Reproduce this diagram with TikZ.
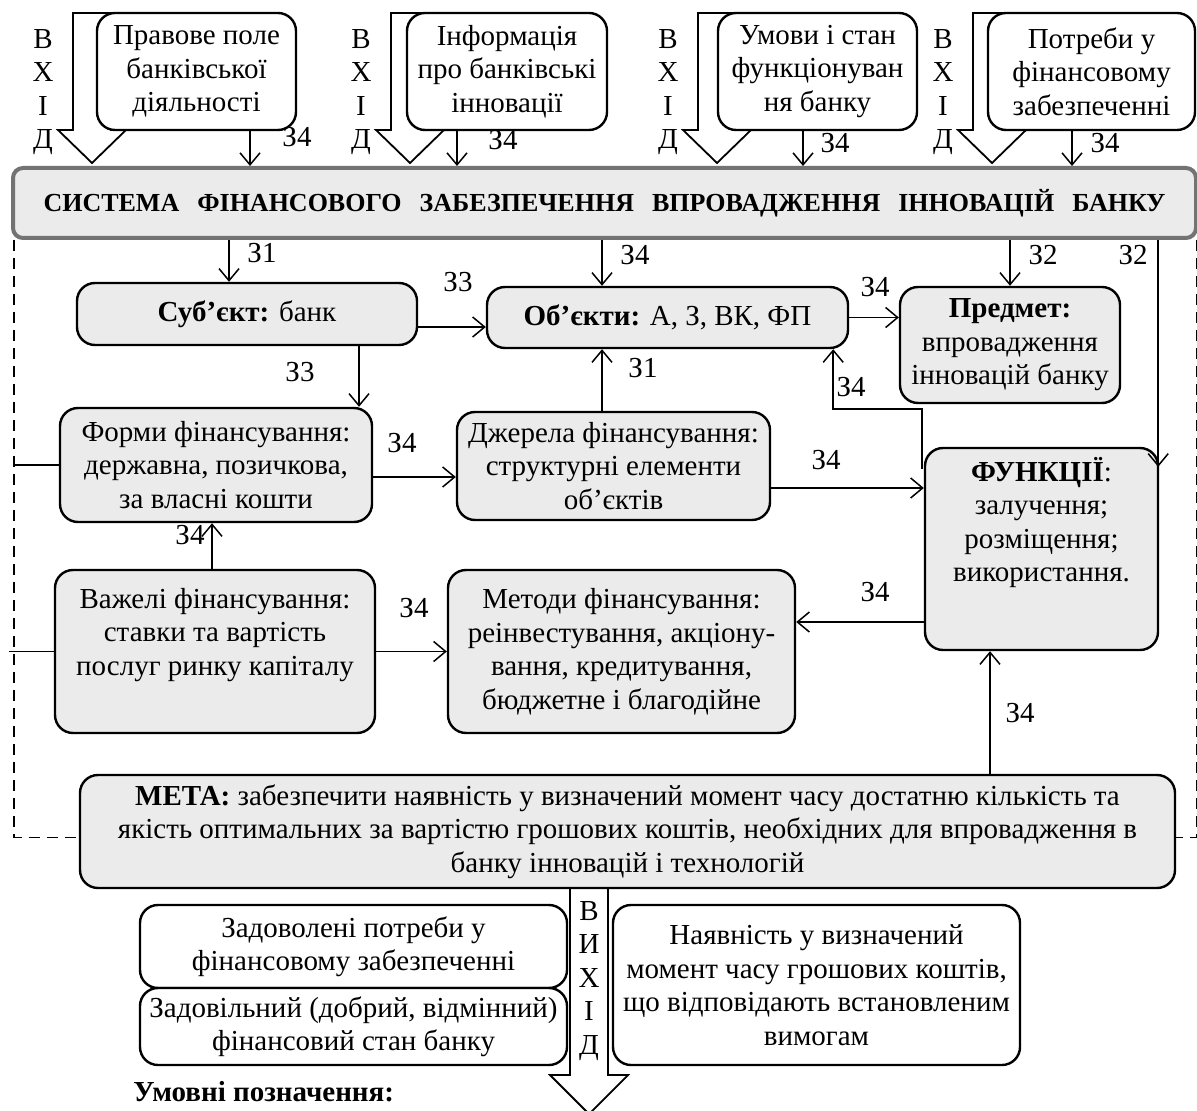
\documentclass[tikz,border=0pt]{standalone}
\usepackage{fontspec}
\setmainfont{Liberation Serif}
\usetikzlibrary{arrows.meta}
\tikzset{
    box/.style={draw, line width=1.2pt, rounded corners=9pt, align=center, inner sep=1pt},
    grbox/.style={box, fill=black!8},
    whbox/.style={box, fill=white},
    arr/.style={line width=0.75pt, -{Straight Barb[length=6pt,width=10pt]}},
    link/.style={line width=0.75pt},
    frame/.style={line width=0.6pt, dash pattern=on 5.5pt off 3.5pt},
    lab/.style={inner sep=0pt},
    vhid/.style={align=center, inner sep=0pt},
    inarrow/.pic={
        \draw[line width=0.9pt, fill=white] (-19,0) -- (-19,117) -- (-34,117) -- (0,150) -- (34,117) -- (19,117) -- (19,0) -- cycle;
        \node[vhid] (-vhid) at (-49,79) {В\\Х\\І\\Д};
    }
}

\begin{document}
\begin{tikzpicture}[x=0.5pt, y=-0.5pt, font=\fontsize{14.5}{16.75}\selectfont]
    \useasboundingbox (0,0) rectangle (1197,1111);
    %входи
    \pic (g1) at (92,13) {inarrow};
    \pic (g2) at (410,13) {inarrow};
    \pic (g3) at (717,13) {inarrow};
    \pic (g4) at (992,13) {inarrow};
    \node[whbox, minimum width=99.5pt, minimum height=58.5pt] (in1) at (196.5,71.5) {Правове поле\\банківської\\діяльності};
    \node[whbox, minimum width=100pt, minimum height=58.5pt] (in2) at (507,71.5) {Інформація\\про банківські\\інновації};
    \node[whbox, minimum width=99.5pt, minimum height=58.5pt] (in3) at (817.5,71.5) {Умови і стан\\функціонуван\\ня банку};
    \node[whbox, minimum width=103.5pt, minimum height=58.5pt] (in4) at (1091.5,71.5) {Потреби у\\фінансовому\\забезпеченні};
    %система
    \node[box, draw=black!55, line width=2pt, rounded corners=5pt, fill=black!8, minimum width=591.5pt, minimum height=35pt, font=\fontsize{13}{16}\selectfont] (sys) at (604.5,203)
        {\textbf{\makebox[561pt][s]{СИСТЕМА\hfill ФІНАНСОВОГО\hfill ЗАБЕЗПЕЧЕННЯ\hfill ВПРОВАДЖЕННЯ\hfill ІННОВАЦІЙ\hfill БАНКУ}}};
    %елементи
    \node[grbox, minimum width=170pt, minimum height=31pt] (subj) at (247,314) {\textbf{Суб’єкт:} банк};
    \node[grbox, minimum width=180.5pt, minimum height=30.5pt] (obj) at (667.5,317.5) {\textbf{Об’єкти:} А, З, ВК, ФП};
    \node[grbox, minimum width=110pt, minimum height=58pt] (pred) at (1010,345) {\textbf{Предмет:}\\впровадження\\інновацій банку};
    \node[grbox, minimum width=156pt, minimum height=57pt] (forms) at (216,465) {Форми фінансування:\\державна, позичкова,\\за власні кошти};
    \node[grbox, minimum width=156.5pt, minimum height=54pt] (src) at (613.5,466) {Джерела фінансування:\\структурні елементи\\об’єктів};
    \node[grbox, minimum width=116.5pt, minimum height=101pt] (func) at (1041.5,549) {\textbf{ФУНКЦІЇ}:\\залучення;\\розміщення;\\використання.\\[13pt]\mbox{}};
    \node[grbox, minimum width=160pt, minimum height=81.5pt] (lev) at (215,651.5) {Важелі фінансування:\\ставки та вартість\\послуг ринку капіталу\\[3pt]\mbox{}};
    \node[grbox, minimum width=173.5pt, minimum height=81.5pt] (meth) at (621.5,651.5) {Методи фінансування:\\реінвестування, акціону-\\вання, кредитування,\\бюджетне і благодійне};
    %вихід
    \draw[line width=0.9pt, fill=white] (570,888) -- (570,1075) -- (550,1075) -- (589,1114) -- (628,1075) -- (608,1075) -- (608,888);
    \node[grbox, minimum width=547.5pt, minimum height=56.5pt] (meta) at (627.5,831.5)
        {\textbf{МЕТА:} забезпечити наявність у визначений момент часу достатню кількість та\\якість оптимальних за вартістю грошових коштів, необхідних для впровадження в\\банку інновацій і технологій};
    \node[vhid] (vyhid) at (589,981) {В\\И\\Х\\І\\Д};
    \node[whbox, minimum width=213.5pt, minimum height=41.5pt] (out1) at (353.5,946.5) {Задоволені потреби у\\фінансовому забезпеченні};
    \node[whbox, minimum width=213.5pt, minimum height=38.5pt] (out2) at (353.5,1026.5) {Задовільний (добрий, відмінний)\\фінансовий стан банку};
    \node[whbox, minimum width=203.5pt, minimum height=80pt] (out3) at (816.5,985) {Наявність у визначений\\момент часу грошових коштів,\\що відповідають встановленим\\вимогам};
    \node[anchor=base west, inner sep=0pt] (legend) at (133,1101) {\textbf{Умовні позначення:}};
    %рамка
    \coordinate (fl) at ([xshift=1.5pt]sys.south west);
    \coordinate (fr) at ([xshift=-0.5pt]sys.south east);
    \draw[frame] (fl) |- ([yshift=-3pt]meta.west);
    \draw[frame] (fr) |- ([yshift=-3pt]meta.east);
    %зв'язки входів
    \coordinate (a1) at ([xshift=26.75pt]in1.south);
    \coordinate (a2) at ([xshift=-25pt]in2.south);
    \coordinate (a3) at ([xshift=-7.25pt]in3.south);
    \coordinate (a4) at ([xshift=-9.75pt]in4.south);
    \foreach \a in {a1,a2,a3,a4}
        \draw[arr] (\a) -- (\a |- sys.north);
    %зв'язки системи
    \coordinate (b1) at ([xshift=-9pt]subj.north);
    \coordinate (b2) at ([xshift=-32.75pt]obj.north);
    \coordinate (b4) at ([xshift=-0.5pt,yshift=-10pt]func.north east);
    \draw[arr] (b1 |- sys.south) -- (b1);
    \draw[arr] (b2 |- sys.south) -- (b2);
    \draw[arr] (pred.north |- sys.south) -- (pred.north);
    \draw[arr] (b4 |- sys.south) -- (b4);
    %зв'язки елементів
    \coordinate (c1) at ([xshift=56pt]subj.south);
    \coordinate (c2) at ([yshift=-6.5pt]subj.east);
    \coordinate (c3) at ([xshift=-5.75pt]src.north);
    \coordinate (c4) at ([xshift=-1pt,yshift=-11pt]func.north west);
    \coordinate (c5) at ([xshift=-8pt]obj.south east);
    \coordinate (c6) at ([yshift=-6pt]forms.east);
    \coordinate (c7) at ([yshift=-11pt]src.east);
    \coordinate (c8) at ([xshift=-1.5pt]lev.north);
    \coordinate (c9) at ([yshift=-36.5pt]func.west);
    \coordinate (c10) at ([xshift=-25.75pt]func.south);
    \draw[arr] (c1) -- (c1 |- forms.north);
    \draw[arr] (c2) -- (c2 -| obj.west);
    \draw[arr] (obj.east) -- (obj.east -| pred.west);
    \draw[arr] (c3) -- (c3 |- obj.south);
    \draw[arr] (c4) -- ++(0,-60) -| (c5);
    \draw[arr] (c6) -- (c6 -| src.west);
    \draw[arr] (c7) -- (c7 -| func.west);
    \draw[arr] (c8) -- (c8 |- forms.south);
    \draw[arr] (lev.east) -- (lev.east -| meth.west);
    \draw[arr] (c9) -- (c9 -| meth.east);
    \draw[arr] (c10 |- meta.north) -- (c10);
    \draw[link] (forms.west) -- (forms.west -| fl);
    \draw[link] (lev.west) -- ++(-45,0);
    %позначки
    \node[lab] (n1) at (297,137) {З4};
    \node[lab] (n2) at (503,140) {З4};
    \node[lab] (n3) at (835,143) {З4};
    \node[lab] (n4) at (1105,143) {З4};
    \node[lab] (n5) at (262,253) {З1};
    \node[lab] (n6) at (635,255) {З4};
    \node[lab] (n7) at (1043,255) {З2};
    \node[lab] (n8) at (1133,255) {З2};
    \node[lab] (n9) at (458,282) {З3};
    \node[lab] (n10) at (300,372) {З3};
    \node[lab] (n11) at (875,287) {З4};
    \node[lab] (n12) at (643,368) {З1};
    \node[lab] (n13) at (851,387) {З4};
    \node[lab] (n14) at (402,443) {З4};
    \node[lab] (n15) at (826,460) {З4};
    \node[lab] (n16) at (190,535) {З4};
    \node[lab] (n17) at (414,608) {З4};
    \node[lab] (n18) at (875,592) {З4};
    \node[lab] (n19) at (1020,713) {З4};
\end{tikzpicture}
\end{document}
